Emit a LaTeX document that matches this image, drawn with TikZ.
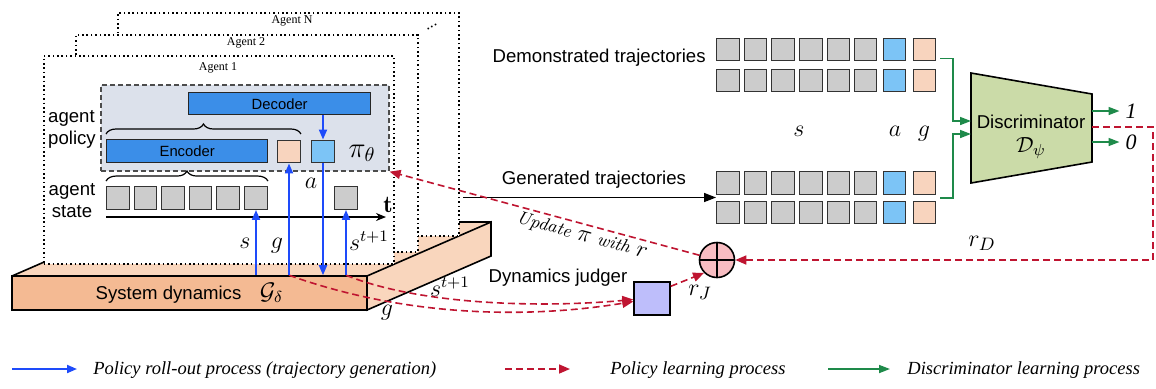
\documentclass[tikz,border=0pt]{standalone}
\usepackage{fontspec}
\newfontfamily\arial{Liberation Sans}
\newfontfamily\tms{Liberation Serif}
\usetikzlibrary{arrows.meta,decorations.pathreplacing,calc}
\definecolor{cgray}{HTML}{CCCCCC}
\definecolor{clblue}{HTML}{7CC4F6}
\definecolor{cpeach}{HTML}{F8D4BE}
\definecolor{cdblue}{HTML}{3B8EE8}
\definecolor{cpol}{HTML}{DCE1EB}
\definecolor{cslab}{HTML}{F4BA93}
\definecolor{cslablight}{HTML}{F9D6BD}
\definecolor{cdisc}{HTML}{CBDBA8}
\definecolor{cgreen}{HTML}{1E8A4A}
\definecolor{cred}{HTML}{BF1531}
\definecolor{cblue}{HTML}{1E4BFA}
\definecolor{cpink}{HTML}{F8BDC2}
\definecolor{clav}{HTML}{BEBEFB}
\tikzset{
 lbl/.style={font=\arial\fontsize{9.3}{11}\selectfont, inner sep=0pt},
 mth/.style={font=\fontsize{12}{14}\selectfont, inner sep=0pt},
 sq/.style={draw=black!80, line width=0.7pt, minimum size=11.25pt, inner sep=0pt},
 gsq/.style={sq, fill=cgray},
 bsq/.style={sq, fill=clblue},
 psq/.style={sq, fill=cpeach},
 agentbox/.style={draw=black, line width=0.8pt, dash pattern=on 0.8pt off 1.4pt, fill=white, anchor=north west, inner sep=0pt},
 agenttxt/.style={font=\tms\fontsize{6}{7}\selectfont, inner sep=0pt},
 coder/.style={draw=black!85, line width=0.7pt, fill=cdblue, inner sep=0pt, font=\arial\fontsize{7.4}{9}\selectfont, anchor=north west},
 bluearr/.style={draw=cblue, line width=0.95pt, -{Triangle[length=5pt,width=4pt]}},
 redarr/.style={draw=cred, line width=0.8pt, dash pattern=on 3.5pt off 2pt, -{Triangle[length=5.5pt,width=4.5pt]}},
 greenarr/.style={draw=cgreen, line width=0.8pt, -{Triangle[length=5.5pt,width=4pt]}},
 legtxt/.style={font=\tms\itshape\fontsize{9.25}{11}\selectfont, anchor=west, inner sep=0pt},
 bracedeco/.style={decorate, decoration={brace, amplitude=5pt}, line width=0.6pt},
}
\begin{document}
\begin{tikzpicture}[x=0.5pt,y=-0.5pt]
\useasboundingbox (0,0) rectangle (1156,388);

% slab (system dynamics) top and side faces
\fill[cslablight] (12,276) -- (367,276) -- (491,222) -- (136,222) -- cycle;
\draw[line width=0.8pt, fill=cslablight] (367,276) -- (491,222) -- (491,256) -- (367,310) -- cycle;
\draw[line width=0.8pt] (12,276) -- (136,222) -- (491,222);

% agent boxes
\node[agentbox, minimum width=170.5pt, minimum height=111.5pt] (agN) at (117,12) {};
\node[agentbox, minimum width=171pt, minimum height=108.5pt] (ag2) at (75,34) {};
\node[agentbox, minimum width=175pt, minimum height=104pt] (ag1) at (43,55) {};
\node[agenttxt] (agNt) at (292,21) {Agent N};
\node[agenttxt] (ag2t) at (246,43) {Agent 2};
\node[agenttxt] (ag1t) at (218,68) {Agent 1};
\node[font=\tms\fontsize{8}{8}\selectfont, rotate=25, inner sep=0pt] (dots) at (432,27) {...};

% slab front face
\node[draw, line width=0.8pt, fill=cslab, minimum width=177.5pt, minimum height=17pt, inner sep=0pt, font=\arial\fontsize{9.3}{11}\selectfont] (sys) at (189.5,293) {System dynamics\quad{\fontsize{12}{14}\selectfont$\mathcal{G}_\delta$}\hspace{8pt}};

% agent policy
\node[draw=black!70, dash pattern=on 2.5pt off 1.5pt, line width=0.8pt, fill=cpol, anchor=north west, minimum width=144pt, minimum height=43pt, inner sep=0pt] (pol) at (100,84) {};
\node[coder, minimum width=91pt, minimum height=11pt] (dec) at (188,92) {Decoder};
\node[coder, minimum width=80.5pt, minimum height=11.5pt] (enc) at (106,139) {Encoder};
\node[psq] (pg) at (289,151.5) {};
\node[bsq] (pa) at (323,151.5) {};
\node[font=\fontsize{14}{16}\selectfont, inner sep=0pt] (pi) at (362,153) {$\pi_\theta$};
\draw[bracedeco] ([yshift=2.5pt]enc.north west) -- ([yshift=2.5pt]enc.north west -| pg.east);
\node[lbl, align=left] (apl) at (72,129) {agent\\policy};
\node[lbl, align=center] (asl) at (72,201) {agent\\state};

% agent state
\foreach \i/\x in {1/118,2/145.5,3/173,4/200.5,5/228,6/256} {
  \node[gsq] (st\i) at (\x,198) {};
}
\node[gsq] (st7) at (346,198) {};
\draw[bracedeco] ([yshift=2.5pt]st1.north west) -- ([yshift=2.5pt]st6.north east);
\coordinate (t0) at (106,217);
\coordinate (t1) at (386,217);
\draw[-{Stealth[length=5pt,width=4pt]}, line width=0.6pt] (t0) -- (t1);
\node[font=\fontsize{12}{14}\selectfont, inner sep=0pt] (tl) at (388,205) {$\mathbf{t}$};

% right: trajectories
\foreach \r/\y in {d1/49.5, d2/80.5, g1/183, g2/212.5} {
  \foreach \i/\x in {1/728,2/755.5,3/783,4/811,5/838.5,6/865.5} {
    \node[gsq] (\r-\i) at (\x,\y) {};
  }
  \node[bsq] (\r-7) at (894.5,\y) {};
  \node[psq] (\r-8) at (924.5,\y) {};
}
\node[lbl, anchor=east] (demo) at (706,58) {Demonstrated trajectories};
\node[lbl] (gen) at (594,180) {Generated trajectories};
\node[mth, anchor=base] (ls) at (799,136) {$s$};
\node[mth, anchor=base] (la) at (895,136) {$a$};
\node[mth, anchor=base] (lg) at (924,136) {$g$};
\coordinate (gs) at (463,197.5);
\draw[-{Triangle[length=6pt,width=4.5pt]}, line width=0.7pt] (gs) -- (gs -| g1-1.west);

% discriminator
\draw[line width=0.8pt, fill=cdisc] (971,73) -- (1092,94) -- (1092,162) -- (971,183) -- cycle;
\node[lbl, align=center] (disc) at (1031,137) {Discriminator\\[1pt]{\fontsize{11}{12}\selectfont$\mathcal{D}_\psi$}};
\coordinate (dinA) at (971,121);
\coordinate (dinB) at (971,134);
\coordinate (dout1) at (1092,111);
\coordinate (dout0) at (1092,142);
\coordinate (doutr) at (1092,127);
\draw[greenarr] ($(d1-8.south east)+(4,-3)$) -| ($(dinA)+(-18,0)$) -- (dinA);
\draw[greenarr] ($(g1-8.south east)+(4,3)$) -| ($(dinB)+(-18,0)$) -- (dinB);
\node[font=\tms\itshape\fontsize{11}{12}\selectfont, inner sep=0pt, outer sep=3pt] (o1) at (1131,111) {1};
\node[font=\tms\itshape\fontsize{11}{12}\selectfont, inner sep=0pt, outer sep=3pt] (o0) at (1131,142) {0};
\draw[greenarr] (dout1) -- (o1.west);
\draw[greenarr] (dout0) -- (o0.west);

% plus and judger
\node[circle, draw, line width=0.8pt, fill=cpink, minimum size=17.5pt, inner sep=0pt] (plus) at (717,260) {};
\draw[line width=1.2pt] (plus.north) -- (plus.south) (plus.west) -- (plus.east);
\node[draw, line width=0.7pt, fill=clav, minimum width=18pt, minimum height=16.5pt, inner sep=0pt] (judge) at (652,298.5) {};
\node[lbl] (jl) at (558,278) {Dynamics judger};
\node[font=\fontsize{13}{14}\selectfont, inner sep=0pt] (rj) at (700,292) {$r_J$};
\node[font=\fontsize{13}{14}\selectfont, inner sep=0pt] (rd) at (982,243) {$r_D$};
\coordinate (rc) at (1153,127);
\draw[redarr] (doutr) -- (rc) |- (plus.east);
\draw[redarr] ([yshift=-2.5pt]judge.north east) -- (plus.south west);
\draw[redarr] (plus) -- (pol.south east);
\node[rotate=-15.3, inner sep=0pt] (upd) at (582,236) {{\fontsize{9}{10}\selectfont\itshape Update} {\fontsize{12}{14}\selectfont$\pi$} {\fontsize{9}{10}\selectfont\itshape with} {\fontsize{13}{14}\selectfont$r$}};

% red curves from dynamics to judger
\draw[redarr] (pg.south |- sys.north) .. controls (400,315) and (520,320) .. ([yshift=-1.5pt]judge.west);
\draw[redarr] (st7.south |- sys.north) .. controls (420,305) and (540,308) .. ([yshift=-0.5pt]judge.west);
\node[mth, anchor=base] (lst2) at (450,296) {$s^{t+1}$};
\node[mth, anchor=base] (lg2) at (387,315) {$g$};

% blue roll-out arrows
\draw[bluearr] (st6.south |- sys.north) -- (st6.south);
\draw[bluearr] (pg.south |- sys.north) -- (pg.south);
\draw[bluearr] (pa.south) -- (pa.south |- sys.north);
\draw[bluearr] (st7.south |- sys.north) -- (st7.south);
\draw[bluearr] (dec.south -| pa.north) -- (pa.north);
\node[mth, anchor=base] (l1) at (245,248) {$s$};
\node[mth, anchor=base] (l2) at (277,248) {$g$};
\node[mth, anchor=base] (l3) at (311,188) {$a$};
\node[mth, anchor=base] (l4) at (369,250) {$s^{t+1}$};

% legend
\coordinate (l1a) at (12,369); \coordinate (l1b) at (77,369);
\coordinate (l2a) at (505,369); \coordinate (l2b) at (570,369);
\coordinate (l3a) at (828,369); \coordinate (l3b) at (890,369);
\draw[bluearr] (l1a) -- (l1b);
\draw[redarr] (l2a) -- (l2b);
\draw[greenarr] (l3a) -- (l3b);
\node[legtxt] (lt1) at (93,370) {Policy roll-out process (trajectory generation)};
\node[legtxt] (lt2) at (610,370) {Policy learning process};
\node[legtxt] (lt3) at (907,370) {Discriminator learning process};
\end{tikzpicture}
\end{document}
